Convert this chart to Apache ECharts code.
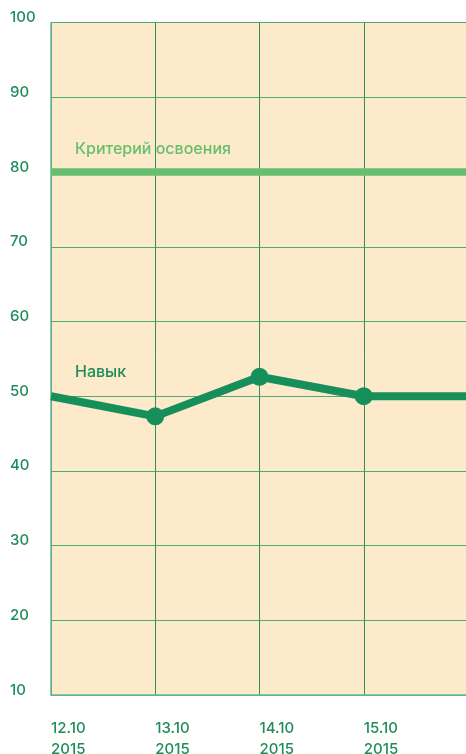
<!DOCTYPE html>
<html><head><meta charset="utf-8">
<script src="https://cdn.jsdelivr.net/npm/echarts@6/dist/echarts.min.js"></script>
<style>html,body{margin:0;padding:0;background:#fff}#c{width:466px;height:754px}</style>
</head><body><div id="c"></div>
<script>
const categories = ['12.10\n2015', '13.10\n2015', '14.10\n2015', '15.10\n2015', ''];
const skillValues = [50, 47.3, 52.6, 50, 50];
const skillSymbols = [false, true, true, true, false];
const criterionValues = [80, 80, 80, 80, 80];
const yMin = 10, yMax = 100, yStep = 10;
const skillName = 'Навык';
const criterionName = 'Критерий освоения';

const chart = echarts.init(document.getElementById('c'), null, {renderer: 'canvas'});
const font = 'Inter, "Noto Sans", sans-serif';
chart.setOption({
  animation: false,
  backgroundColor: '#ffffff',
  grid: {left: 51, right: -2, top: 22.7, bottom: 59, show: true, backgroundColor: '#fdeacb', borderWidth: 0, outerBoundsMode: 'none', containLabel: false},
  xAxis: {
    type: 'category', data: categories, boundaryGap: false,
    axisLine: {show: true, lineStyle: {color: '#6ab89a', width: 1.5}},
    axisTick: {show: false},
    splitLine: {show: true, lineStyle: {color: '#2f9258', width: 1}},
    axisLabel: {align: 'left', margin: 23, lineHeight: 21, fontSize: 15, fontWeight: 500, fontFamily: font, color: '#1f8c5c'}
  },
  yAxis: {
    type: 'value', min: yMin, max: yMax, interval: yStep,
    axisLine: {show: true, lineStyle: {color: '#6ab89a', width: 1.5}},
    axisTick: {show: false},
    splitLine: {show: true, lineStyle: {color: '#4fa877', width: 1}},
    axisLabel: {align: 'left', margin: 41, fontSize: 15, fontWeight: 500, fontFamily: font, color: '#1f8c5c', verticalAlign: 'bottom', lineHeight: 10}
  },
  series: [
    {
      name: criterionName, type: 'line', data: criterionValues, showSymbol: false, symbol: 'none',
      lineStyle: {color: '#66bf6e', width: 7.5}, z: 3
    },
    {
      name: skillName, type: 'line',
      data: skillValues.map((v, i) => ({value: v, symbol: skillSymbols[i] ? 'circle' : 'none'})),
      symbolSize: 18, showAllSymbol: true,
      itemStyle: {color: '#178f5b'},
      lineStyle: {color: '#178f5b', width: 8}, z: 4
    }
  ],
  graphic: [
    {type: 'text', left: 75, top: 141, style: {text: criterionName, font: '500 16px ' + font, fill: '#66bf6e'}},
    {type: 'text', left: 75, top: 364, style: {text: skillName, font: '500 16px ' + font, fill: '#1f8c5c'}}
  ]
});
</script></body></html>
